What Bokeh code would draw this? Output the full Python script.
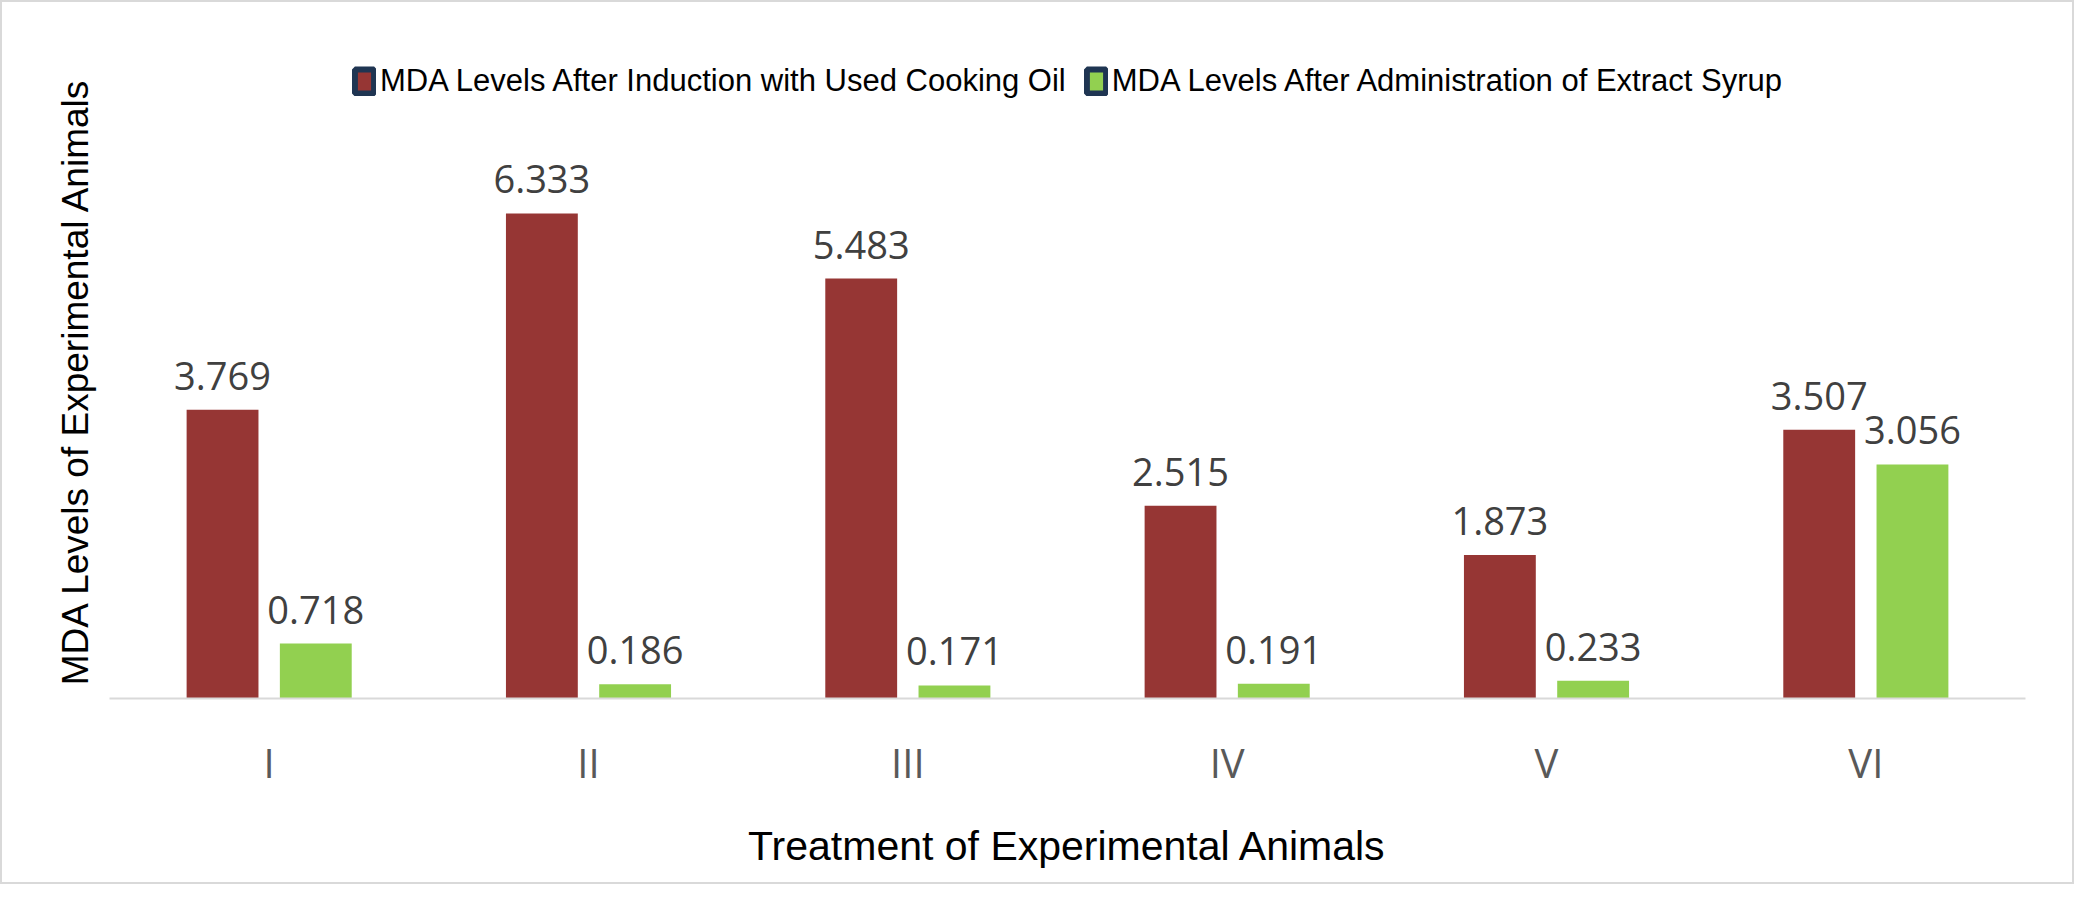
from bokeh.plotting import figure
from bokeh.models import ColumnDataSource, Legend, LegendItem, FixedTicker, Range1d
from bokeh.embed import file_html
from bokeh.resources import INLINE
from bokeh.core.properties import value

categories = ["I", "II", "III", "IV", "V", "VI"]
induction = [3.769, 6.333, 5.483, 2.515, 1.873, 3.507]
syrup = [0.718, 0.186, 0.171, 0.191, 0.233, 3.056]
labels_ind = ["3.769", "6.333", "5.483", "2.515", "1.873", "3.507"]
labels_syr = ["0.718", "0.186", "0.171", "0.191", "0.233", "3.056"]

RED = "#963634"
GREEN = "#92d050"
xs = list(range(len(categories)))
off = 0.146
w = 0.225

p = figure(width=2074, height=884, output_backend="svg", toolbar_location=None,
           x_range=Range1d(-0.5, 5.5), y_range=Range1d(0, 8.29),
           min_border_left=107, min_border_right=51, min_border_top=61, min_border_bottom=188)
p.styles = {"border": "2px solid #d9d9d9"}
p.outline_line_color = None
p.grid.visible = False

src1 = ColumnDataSource(dict(x=[x - off for x in xs], top=induction, lab=labels_ind))
src2 = ColumnDataSource(dict(x=[x + off for x in xs], top=syrup, lab=labels_syr))
p.vbar(x="x", top="top", width=w, source=src1, fill_color=RED, line_color=None)
p.vbar(x="x", top="top", width=w, source=src2, fill_color=GREEN, line_color=None)
for s in (src1, src2):
    p.text(x="x", y="top", text="lab", source=s, text_align="center", text_baseline="bottom",
           y_offset=-20, text_font=value("Open Sans"), text_font_size="38px", text_color="#404040")

# legend glyphs (placed outside visible range)
l1 = p.rect(x=[-50], y=[-50], width=1, height=1, fill_color=RED, line_color="#1f3552", line_width=6)
l2 = p.rect(x=[-50], y=[-50], width=1, height=1, fill_color=GREEN, line_color="#1f3552", line_width=6)
leg = Legend(items=[LegendItem(label="MDA Levels After Induction with Used Cooking Oil", renderers=[l1]),
                    LegendItem(label="MDA Levels After Administration of Extract Syrup", renderers=[l2])],
             orientation="horizontal", location="top_center", background_fill_alpha=0,
             border_line_color=None, label_text_font="Liberation Sans", label_text_font_size="31px",
             label_text_color="#000000", glyph_width=24, glyph_height=30, spacing=18, padding=0,
             margin=0, label_standoff=4)
p.add_layout(leg, "center")

p.xaxis.ticker = FixedTicker(ticks=xs)
p.xaxis.major_label_overrides = {i: c for i, c in enumerate(categories)}
p.xaxis.major_tick_line_color = None
p.xaxis.minor_tick_line_color = None
p.xaxis.axis_line_color = "#d9d9d9"
p.xaxis.axis_line_width = 2
p.xaxis.major_label_standoff = 30
p.xaxis.major_label_text_font = "Open Sans"
p.xaxis.major_label_text_font_size = "40px"
p.xaxis.major_label_text_color = "#595959"
p.xaxis.axis_label = "Treatment of Experimental Animals"
p.xaxis.axis_label_text_font = "Liberation Sans"
p.xaxis.axis_label_text_font_style = "normal"
p.xaxis.axis_label_text_font_size = "41px"
p.xaxis.axis_label_text_color = "#000000"
p.xaxis.axis_label_standoff = 30

p.yaxis.axis_label = "MDA Levels of Experimental Animals"
p.yaxis.axis_label_text_font = "Liberation Sans"
p.yaxis.axis_label_text_font_style = "normal"
p.yaxis.axis_label_text_font_size = "37px"
p.yaxis.axis_label_text_color = "#000000"
p.yaxis.major_label_text_font_size = "0px"
p.yaxis.major_label_standoff = 0
p.yaxis.major_tick_line_color = None
p.yaxis.minor_tick_line_color = None
p.yaxis.axis_line_color = None
p.yaxis.axis_label_standoff = 8

open("out.html", "w").write(file_html(p, INLINE))
